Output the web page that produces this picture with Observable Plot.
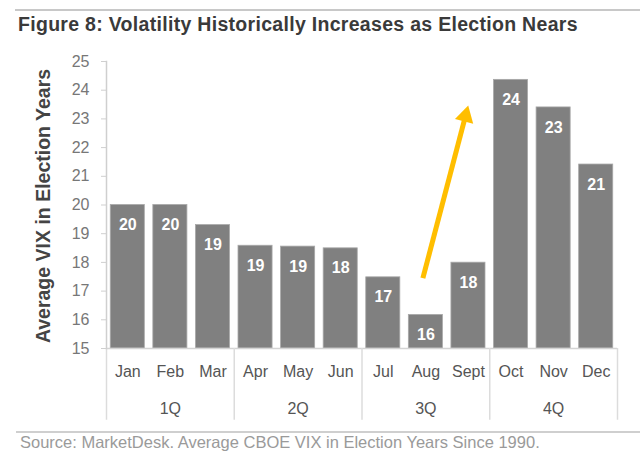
<!DOCTYPE html>
<html>
<head>
<meta charset="utf-8">
<script src="https://cdn.jsdelivr.net/npm/d3@7"></script>
<script src="https://cdn.jsdelivr.net/npm/@observablehq/plot@0.6"></script>
<style>
  html, body { margin: 0; padding: 0; background: #fff; }
  #wrap { position: relative; width: 640px; height: 460px; overflow: hidden; font-family: "Liberation Sans", Arial, sans-serif; }
  #topline { position: absolute; left: 15px; right: 0; top: 9px; border-top: 2px solid #c8c8c8; }
  #title { position: absolute; left: 18px; top: 13px; font-size: 19.5px; letter-spacing: 0.3px; font-weight: bold; color: #3a3a3a; white-space: nowrap; }
  #chart { position: absolute; left: 0; top: 0; }
  #botline { position: absolute; left: 16px; right: 0; top: 431px; border-top: 2px solid #cfcfcf; }
  #source { position: absolute; left: 20px; top: 433px; font-size: 16.5px; color: #9a9a9a; white-space: nowrap; }
</style>
</head>
<body>
<div id="wrap">
  <div id="topline"></div>
  <div id="title">Figure 8: Volatility Historically Increases as Election Nears</div>
  <div id="chart"></div>
  <div id="botline"></div>
  <div id="source">Source: MarketDesk. Average CBOE VIX in Election Years Since 1990.</div>
</div>
<script>
const months = ["Jan","Feb","Mar","Apr","May","Jun","Jul","Aug","Sept","Oct","Nov","Dec"];
const vix = [20.0, 20.0, 19.30, 18.58, 18.55, 18.49, 17.48, 16.17, 17.99, 24.36, 23.40, 21.41];
const barLabels = ["20","20","19","19","19","18","17","16","18","24","23","21"];
const quarters = ["1Q","2Q","3Q","4Q"];
const quarterMid = ["Feb","May","Aug","Nov"];
const groupEdges = ["Jan","Apr","Jul","Oct"];
const lastMonth = "Dec";
const yTicks = [15,16,17,18,19,20,21,22,23,24,25];
const yTitle = "Average VIX in Election Years";
const arrowFrom = {month: "Aug", value: 17.45};
const arrowTo = {month: "Sept", value: 23.1};

const bars = months.map((m, i) => ({month: m, value: vix[i], label: barLabels[i]}));
const qdata = quarters.map((q, i) => ({q, month: quarterMid[i]}));

const W = 640, H = 430;
const marginLeft = 106, marginRight = 23, marginTop = 61, marginBottom = 82;
const step = (W - marginLeft - marginRight) / months.length;
const half = step / 2;
const font = "'Liberation Sans', Arial, sans-serif";

const plot = Plot.plot({
  width: W,
  height: H,
  marginLeft, marginRight, marginTop, marginBottom,
  style: {fontFamily: font, background: "transparent", overflow: "visible"},
  x: {domain: months, paddingInner: 0.2, paddingOuter: 0.1, round: false, label: null},
  y: {domain: [15, 25], label: null},
  marks: [
    Plot.barY(bars, {x: "month", y1: 15, y2: "value", fill: "#808080", stroke: "#a8a8a8", strokeWidth: 0.8}),
    Plot.text(bars, {x: "month", y: "value", text: "label", dy: 20, fill: "white", fontWeight: "bold", fontSize: 16}),
    Plot.ruleY([15], {stroke: "#d4d4d4", strokeWidth: 1.5}),
    Plot.ruleX(groupEdges, {x: d => d, y1: 15, y2: 12.5, dx: -half, stroke: "#dcdcdc", strokeWidth: 1.5, clip: false}),
    Plot.ruleX([lastMonth], {x: d => d, y1: 15, y2: 12.5, dx: half, stroke: "#dcdcdc", strokeWidth: 1.5, clip: false}),
    Plot.axisX({tickSize: 0, tickPadding: 17, fontSize: 16, color: "#555", label: null}),
    Plot.text(qdata, {x: "month", y: 15, text: "q", dy: 60, fontSize: 16, fill: "#555", clip: false}),
    Plot.axisY({ticks: yTicks, tickSize: 5, tickPadding: 12, fontSize: 16, color: "#777", stroke: "#cfcfcf", label: null}),
    Plot.frame({anchor: "left", stroke: "#cfcfcf", strokeWidth: 1.5}),
    Plot.text([yTitle], {frameAnchor: "left", textAnchor: "middle", rotate: -90, dx: -63, dy: 1, fontSize: 19.5, fontWeight: "bold", fill: "#444"}),
    Plot.link([{}], {x1: () => arrowFrom.month, y1: () => arrowFrom.value, x2: () => arrowTo.month, y2: () => arrowTo.value, dx: -3, stroke: "#FFBE00", strokeWidth: 5}),
    Plot.dot([{}], {x: () => arrowTo.month, y: () => arrowTo.value, dx: -3, symbol: "triangle", r: 7, fill: "#FFBE00", stroke: "none", rotate: 14.7})
  ]
});
document.getElementById("chart").appendChild(plot);
</script>
</body>
</html>
